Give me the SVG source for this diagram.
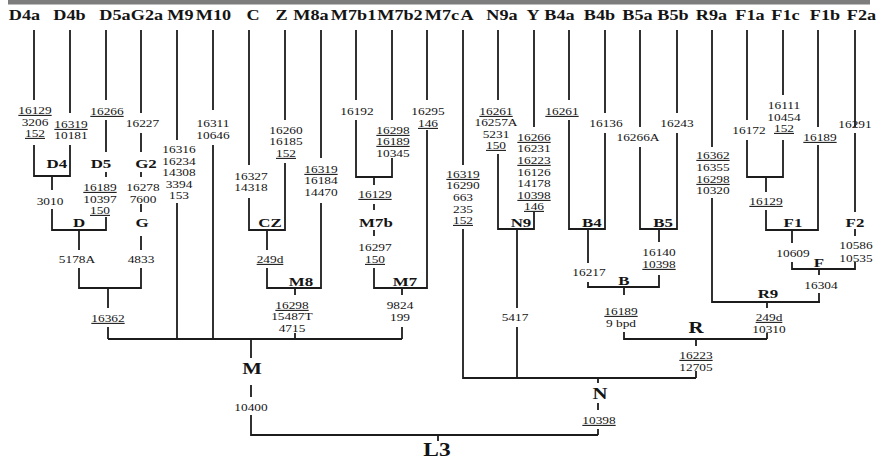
<svg xmlns="http://www.w3.org/2000/svg" width="878" height="460" viewBox="0 0 878 460">
<style>
text{font-family:"Liberation Serif","Times New Roman",serif;fill:#141414;text-anchor:middle;transform-box:fill-box;transform-origin:center}
.h{font-size:14px;font-weight:bold;transform:scaleX(1.3)}
.n{font-size:13px;font-weight:bold;transform:scaleX(1.3)}
.b{font-size:16px;font-weight:bold;transform:scaleX(1.3)}
.L{font-size:18px;font-weight:bold;transform:scaleX(1.3)}
.m{font-size:10.5px;transform:scaleX(1.27)}
.u{text-decoration:underline}
.l{stroke:#1c1c1c;stroke-width:1.8;fill:none}
</style>
<rect x="8" y="0" width="862" height="4.5" fill="#7d7d7d"/>
<g id="connectors" class="l">
<path d="M34 30V100M70 30V113M34 145V176H70V145M52 176V190M52 209V230H106V217M106 30V100M106 120V152M106 172V177"/>
<path d="M141 30V113M141 133V152M141 172V177M141 204V212M141 236V250M79 230V250M79 268V288H141V268M108 288V308M108 327V339"/>
<path d="M177 30V140M177 203V339M213 30V110M213 145V339M108 339H402"/>
<path d="M249 30V165M285 30V120M249 198V230H285V163M267 230V250M267 268V288H321V203M321 30V158M295 288V295M295 333V339"/>
<path d="M356 30V100M392 30V120M356 120V177H392V158M374 177V185M374 204V210M374 230V236M374 268V288H427V130M427 30V100M402 288V295M402 327V339"/>
<path d="M251 339V358M251 385V397M251 415V435H598M438 435V441"/>
<path d="M463 30V165M463 229V378H696M498 30V100M534 30V127M498 154V229H534V212M517 229V308M517 327V378"/>
<path d="M598 378V383M598 403V410M598 429V435"/>
<path d="M569 30V100M605 30V113M569 120V229H605V133M588 229V263M588 282V287H659V275M640 30V127M677 30V113M640 147V229H677V133M659 229V242M624 287V295M624 332V339H767"/>
<path d="M696 339V346M696 371V378"/>
<path d="M712 30V147M712 198V302H820M767 302V308M767 333V339"/>
<path d="M747 30V120M783 30V95M747 140V177H783V140M766 177V192M766 210V230H818V145M818 30V127M792 230V243M792 262V269H855V262M855 30V127M855 133V212M855 229V236M819 269V275M819 293V302"/>
</g>
<g id="D4a"><text class="h" x="24.5" y="20.5">D4a</text><text class="m u" x="35" y="114">16129</text><text class="m" x="35" y="126">3206</text><text class="m u" x="35" y="137">152</text></g>
<g id="D4b"><text class="h" x="69.5" y="20.5">D4b</text><text class="m u" x="71" y="128">16319</text><text class="m" x="71" y="139">10181</text></g>
<g id="D5a"><text class="h" x="115" y="20.5">D5a</text><text class="m u" x="107" y="115">16266</text></g>
<g id="G2a"><text class="h" x="147" y="20.5">G2a</text><text class="m" x="142.5" y="127">16227</text></g>
<g id="M9"><text class="h" x="180.5" y="20.5">M9</text><text class="m" x="179" y="153">16316</text><text class="m" x="179" y="165">16234</text><text class="m" x="179" y="176">14308</text><text class="m" x="179" y="188">3394</text><text class="m" x="179" y="199">153</text></g>
<g id="M10"><text class="h" x="213.5" y="20.5">M10</text><text class="m" x="213" y="127">16311</text><text class="m" x="213" y="139">10646</text></g>
<g id="C"><text class="h" x="253" y="20.5">C</text><text class="m" x="251" y="180">16327</text><text class="m" x="251" y="191">14318</text></g>
<g id="Z"><text class="h" x="281.5" y="20.5">Z</text><text class="m" x="286" y="134">16260</text><text class="m" x="286" y="145">16185</text><text class="m u" x="286" y="157">152</text></g>
<g id="M8a"><text class="h" x="311" y="20.5">M8a</text><text class="m u" x="321" y="173">16319</text><text class="m" x="321" y="184">16184</text><text class="m" x="321" y="196">14470</text></g>
<g id="M7b1"><text class="h" x="353.5" y="20.5">M7b1</text><text class="m" x="357" y="115">16192</text></g>
<g id="M7b2"><text class="h" x="400" y="20.5">M7b2</text><text class="m u" x="393" y="134">16298</text><text class="m u" x="393" y="145">16189</text><text class="m" x="393" y="157">10345</text></g>
<g id="M7c"><text class="h" x="442" y="20.5">M7c</text><text class="m" x="428" y="115">16295</text><text class="m u" x="428" y="127">146</text></g>
<g id="A"><text class="h" x="467" y="20.5">A</text><text class="m u" x="463" y="178">16319</text><text class="m" x="463" y="189">16290</text><text class="m" x="463" y="201">663</text><text class="m" x="463" y="213">235</text><text class="m u" x="463" y="224">152</text></g>
<g id="N9a"><text class="h" x="502" y="20.5">N9a</text><text class="m u" x="496" y="115">16261</text><text class="m" x="496" y="126">16257A</text><text class="m" x="496" y="138">5231</text><text class="m u" x="496" y="149">150</text></g>
<g id="Y"><text class="h" x="533" y="20.5">Y</text><text class="m u" x="534" y="141">16266</text><text class="m" x="534" y="152">16231</text><text class="m u" x="534" y="164">16223</text><text class="m" x="534" y="176">16126</text><text class="m" x="534" y="187">14178</text><text class="m u" x="534" y="199">10398</text><text class="m u" x="534" y="210">146</text></g>
<g id="B4a"><text class="h" x="559.5" y="20.5">B4a</text><text class="m u" x="562" y="115">16261</text></g>
<g id="B4b"><text class="h" x="599.5" y="20.5">B4b</text><text class="m" x="606" y="127">16136</text></g>
<g id="B5a"><text class="h" x="637.5" y="20.5">B5a</text><text class="m" x="638" y="141">16266A</text></g>
<g id="B5b"><text class="h" x="673" y="20.5">B5b</text><text class="m" x="677" y="127">16243</text></g>
<g id="R9a"><text class="h" x="711.5" y="20.5">R9a</text><text class="m u" x="713" y="159">16362</text><text class="m" x="713" y="171">16355</text><text class="m u" x="713" y="183">16298</text><text class="m" x="713" y="194">10320</text></g>
<g id="F1a"><text class="h" x="750" y="20.5">F1a</text><text class="m" x="749" y="134">16172</text></g>
<g id="F1c"><text class="h" x="785.5" y="20.5">F1c</text><text class="m" x="784" y="109">16111</text><text class="m" x="784" y="121">10454</text><text class="m u" x="784" y="132">152</text></g>
<g id="F1b"><text class="h" x="825" y="20.5">F1b</text><text class="m u" x="820" y="141">16189</text></g>
<g id="F2a"><text class="h" x="861.5" y="20.5">F2a</text><text class="m" x="855" y="128">16291</text></g>
<g id="D4"><text class="n" x="57" y="168">D4</text><text class="m" x="50" y="205">3010</text></g>
<g id="D5"><text class="n" x="101" y="168">D5</text><text class="m u" x="100" y="191">16189</text><text class="m" x="100" y="203">10397</text><text class="m u" x="100" y="214">150</text></g>
<g id="G2"><text class="n" x="146" y="168">G2</text><text class="m" x="143" y="191">16278</text><text class="m" x="143" y="203">7600</text></g>
<g id="D"><text class="n" x="79" y="227">D</text><text class="m" x="77" y="263">5178A</text></g>
<g id="G"><text class="n" x="142" y="227">G</text><text class="m" x="141" y="263">4833</text></g>
<g id="DG"><text class="m u" x="108" y="322">16362</text></g>
<g id="CZ"><text class="n" x="270" y="227">CZ</text><text class="m u" x="270" y="263">249d</text></g>
<g id="M8"><text class="n" x="301" y="286">M8</text><text class="m u" x="292" y="309">16298</text><text class="m" x="292" y="320">15487T</text><text class="m" x="292" y="332">4715</text></g>
<g id="M7b"><text class="m u" x="375" y="198">16129</text><text class="n" x="376" y="227">M7b</text><text class="m" x="375" y="251">16297</text><text class="m u" x="375" y="263">150</text></g>
<g id="M7"><text class="n" x="405" y="286">M7</text><text class="m" x="400" y="309">9824</text><text class="m" x="400" y="321">199</text></g>
<g id="M"><text class="b" x="252" y="374">M</text><text class="m" x="251" y="411">10400</text></g>
<g id="N9"><text class="n" x="521" y="227">N9</text><text class="m" x="515" y="321">5417</text></g>
<g id="B4"><text class="n" x="592" y="227">B4</text><text class="m" x="589" y="276">16217</text></g>
<g id="B5"><text class="n" x="663" y="227">B5</text><text class="m" x="659" y="256">16140</text><text class="m u" x="659" y="268">10398</text></g>
<g id="B"><text class="n" x="624" y="285">B</text><text class="m u" x="621" y="315">16189</text><text class="m" x="621" y="327">9 bpd</text></g>
<g id="F1ac"><text class="m u" x="766" y="205">16129</text></g>
<g id="F1"><text class="n" x="793" y="227">F1</text><text class="m" x="793" y="257">10609</text></g>
<g id="F2"><text class="n" x="855" y="227">F2</text><text class="m" x="856" y="249">10586</text><text class="m" x="856" y="262">10535</text></g>
<g id="F"><text class="n" x="819" y="267">F</text><text class="m" x="821" y="289">16304</text></g>
<g id="R9"><text class="n" x="768" y="298">R9</text><text class="m u" x="769" y="321">249d</text><text class="m" x="769" y="333">10310</text></g>
<g id="R"><text class="b" x="696" y="333">R</text><text class="m u" x="696" y="359">16223</text><text class="m" x="696" y="371">12705</text></g>
<g id="N"><text class="b" x="600" y="399">N</text><text class="m u" x="599" y="424">10398</text></g>
<g id="L3"><text class="L" x="437" y="456">L3</text></g>
</svg>
